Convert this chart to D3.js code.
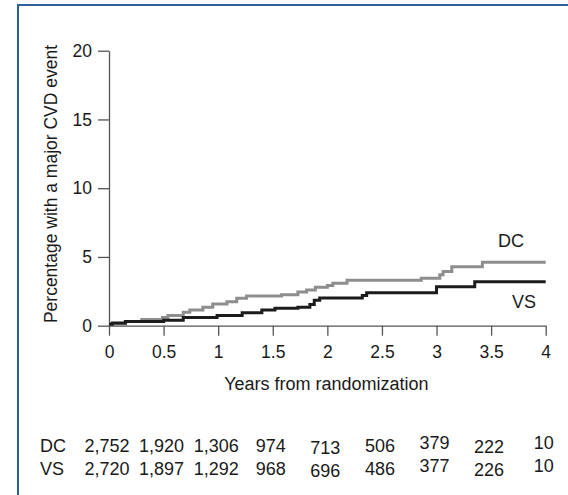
<!DOCTYPE html>
<html>
<head>
<meta charset="utf-8">
<script src="https://cdn.jsdelivr.net/npm/d3@7"></script>
<style>
  body { margin: 0; background: #fff; }
  svg text { font-family: "Liberation Sans", Arial, sans-serif; fill: #1a1a1a; }
</style>
</head>
<body>
<div id="chart"></div>
<script>
// Cumulative % with a major CVD event, step points [years, percent]
const dcSteps = [
  [0, 0.1], [0.15, 0.3], [0.3, 0.46], [0.49, 0.6], [0.54, 0.75], [0.68, 0.97],
  [0.74, 1.14], [0.86, 1.34], [0.95, 1.58], [1.08, 1.75], [1.17, 1.99],
  [1.26, 2.16], [1.58, 2.25], [1.73, 2.45], [1.81, 2.6], [1.89, 2.79],
  [2.0, 2.92], [2.05, 3.08], [2.18, 3.3], [2.86, 3.45], [3.03, 3.7],
  [3.06, 3.95], [3.14, 4.28], [3.42, 4.62], [4.0, 4.62]
];
const vsSteps = [
  [0, 0.1], [0.03, 0.2], [0.15, 0.3], [0.5, 0.4], [0.68, 0.6], [0.99, 0.75],
  [1.22, 0.95], [1.4, 1.14], [1.52, 1.27], [1.73, 1.35], [1.84, 1.55],
  [1.88, 1.85], [1.93, 2.02], [2.32, 2.2], [2.36, 2.4], [3.0, 2.84],
  [3.35, 3.2], [4.0, 3.2]
];

const xTicks = [0, 0.5, 1, 1.5, 2, 2.5, 3, 3.5, 4];
const yTicks = [0, 5, 10, 15, 20];

// numbers at risk
const riskDC = ["2,752", "1,920", "1,306", "974", "713", "506", "379", "222", "10"];
const riskVS = ["2,720", "1,897", "1,292", "968", "696", "486", "377", "226", "10"];

const W = 568, H = 495;

const svg = d3.select("#chart")
  .append("svg")
  .attr("width", W)
  .attr("height", H);

// frame
svg.append("rect")
  .attr("x", 18).attr("y", 5)
  .attr("width", 700).attr("height", 700)
  .attr("fill", "none")
  .attr("stroke", "#2d5f9e")
  .attr("stroke-width", 2);

const x = d3.scaleLinear().domain([0, 4]).range([109, 545.7]);
const y = d3.scaleLinear().domain([0, 20]).range([325.7, 50.7]);

const axisColor = "#555";

// x axis
const gx = svg.append("g")
  .attr("transform", `translate(0,${y(0)})`)
  .call(d3.axisBottom(x).tickValues(xTicks).tickFormat(d3.format("")).tickSize(10).tickSizeOuter(0).tickPadding(10));

// y axis
const gy = svg.append("g")
  .attr("transform", `translate(${x(0)},0)`)
  .call(d3.axisLeft(y).tickValues(yTicks).tickSize(11).tickSizeOuter(0).tickPadding(6));

[gx, gy].forEach(g => {
  g.select(".domain").attr("stroke", axisColor).attr("stroke-width", 1.3);
  g.selectAll(".tick line").attr("stroke", axisColor).attr("stroke-width", 1.3);
  g.selectAll(".tick text")
    .attr("fill", "#1a1a1a")
    .style("font-size", "17.5px")
    .style("font-family", "'Liberation Sans', Arial, sans-serif");
});

// axis titles
svg.append("text")
  .attr("x", x(2) - 1)
  .attr("y", 390)
  .attr("text-anchor", "middle")
  .style("font-size", "18px")
  .text("Years from randomization");

svg.append("text")
  .attr("transform", `translate(57,184) rotate(-90)`)
  .attr("text-anchor", "middle")
  .style("font-size", "17.5px")
  .text("Percentage with a major CVD event");

// step curves
const line = d3.line()
  .x(d => x(d[0]))
  .y(d => y(d[1]))
  .curve(d3.curveStepAfter);

svg.append("path")
  .datum(dcSteps)
  .attr("d", line)
  .attr("fill", "none")
  .attr("stroke", "#8e8e8e")
  .attr("stroke-width", 3);

svg.append("path")
  .datum(vsSteps)
  .attr("d", line)
  .attr("fill", "none")
  .attr("stroke", "#1c1c1c")
  .attr("stroke-width", 3);

// curve labels
svg.append("text").attr("x", 498).attr("y", 247).style("font-size", "18px").text("DC");
svg.append("text").attr("x", 512).attr("y", 308).style("font-size", "18px").text("VS");

// numbers at risk table
const nudge = [0, 0, 0, 0, 2, 0, -3, 1, -3];
const rows = [["DC", riskDC, 452], ["VS", riskVS, 475]];

rows.forEach(([name, vals, base]) => {
  svg.append("text")
    .attr("x", 40)
    .attr("y", base)
    .style("font-size", "18px")
    .text(name);

  svg.selectAll(null)
    .data(vals)
    .enter()
    .append("text")
    .attr("x", (d, i) => x(xTicks[i]) - 2)
    .attr("y", (d, i) => base + nudge[i])
    .attr("text-anchor", "middle")
    .style("font-size", "18px")
    .text(d => d);
});
</script>
</body>
</html>
